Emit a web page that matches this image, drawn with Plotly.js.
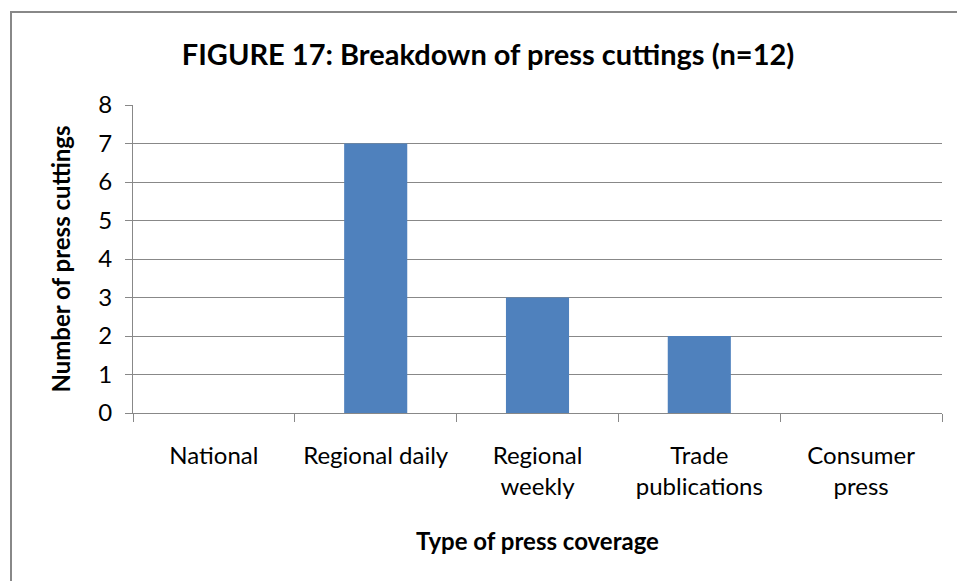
<!DOCTYPE html>
<html><head><meta charset="utf-8">
<script src="https://cdn.plot.ly/plotly-3.0.1.min.js"></script>
<style>body{margin:0;padding:0;background:#fff;}#chart{width:957px;height:581px;}</style>
</head><body><div id="chart"></div>
<script>
const categories = ["National", "Regional daily", "Regional<br>weekly", "Trade<br>publications", "Consumer<br>press"];
const counts = [0, 7, 3, 2, 0];
const yTicks = [0, 1, 2, 3, 4, 5, 6, 7, 8];

const W = 957, H = 581, L = 133, R = 15, T = 105, B = 168;
const pw = W - L - R, ph = H - T - B;
const px = v => (v - L) / pw;
const py = v => (H - B - v) / ph;

const fontFam = "Lato, 'Open Sans', sans-serif";
Plotly.newPlot('chart', [{
  type: 'bar', x: categories, y: counts,
  marker: {color: '#4F81BD'}, hoverinfo: 'x+y'
}], {
  width: W, height: H,
  margin: {l: L, r: R, t: T, b: B},
  paper_bgcolor: '#fff', plot_bgcolor: '#fff',
  bargap: 0.61,
  showlegend: false,
  title: {text: '<b>FIGURE 17: Breakdown of press cuttings (n=12)</b>', x: 0.51, xanchor: 'center', y: 1 - 55/H, yanchor: 'middle',
          font: {family: fontFam, size: 29, color: '#000'}},
  xaxis: {
    type: 'category', tickson: 'boundaries', ticks: 'outside', ticklen: 8, tickcolor: '#888', tickwidth: 1,
    showline: true, linecolor: '#888', linewidth: 1, showgrid: false,
    tickfont: {family: fontFam, size: 24, color: '#000'}, ticklabelstandoff: 21,
    title: {text: '<b>Type of press coverage</b>', font: {family: fontFam, size: 24, color: '#000'}, standoff: 34}
  },
  yaxis: {
    range: [0, 8], tickvals: yTicks, ticks: 'outside', ticklen: 7, tickcolor: '#888',
    showline: true, linecolor: '#888', linewidth: 1, gridcolor: '#888', gridwidth: 1,
    tickfont: {family: fontFam, size: 24, color: '#000'}, ticklabelstandoff: 8,
    title: {text: '<b>Number of press cuttings</b>', font: {family: fontFam, size: 24, color: '#000'}, standoff: 20},
    zeroline: false
  },
  shapes: [{
    type: 'path', xref: 'paper', yref: 'paper',
    path: `M ${px(11)} ${py(H+5)} L ${px(11)} ${py(12)} L ${px(W+5)} ${py(12)}`,
    line: {color: '#888', width: 2}
  }]
}, {displayModeBar: false});
</script></body></html>
